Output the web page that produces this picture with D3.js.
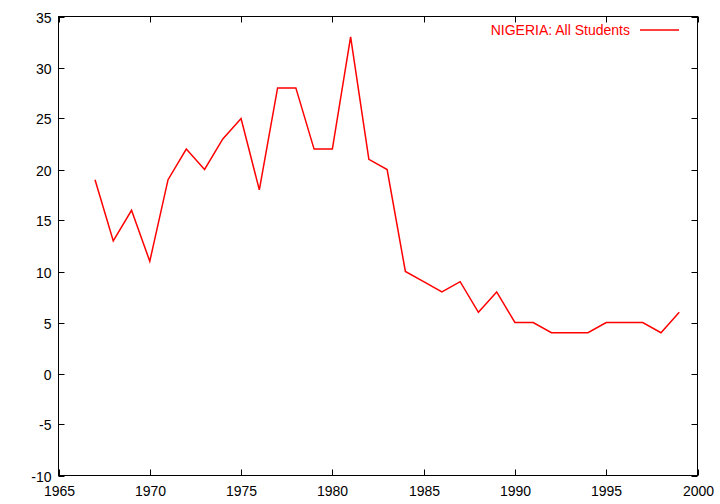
<!DOCTYPE html>
<html><head><meta charset="utf-8">
<script src="https://cdn.jsdelivr.net/npm/d3@7"></script>
<style>body{margin:0;background:#fff}svg{display:block}text{font-family:"Liberation Sans",Arial,sans-serif;font-size:14px}</style>
</head><body>
<svg id="c" width="720" height="504"></svg>
<script>
const years = [1967,1968,1969,1970,1971,1972,1973,1974,1975,1976,1977,1978,1979,1980,1981,1982,1983,1984,1985,1986,1987,1988,1989,1990,1991,1992,1993,1994,1995,1996,1997,1998,1999];
const values = [19,13,16,11,19,22,20,23,25,18,28,28,22,22,33,21,20,10,9,8,9,6,8,5,5,4,4,4,5,5,5,4,6];
const xTicks = [1965,1970,1975,1980,1985,1990,1995,2000];
const yTicks = [-10,-5,0,5,10,15,20,25,30,35];
const seriesName = "NIGERIA: All Students";

const L=58.5,R=697.5,T=16.5,B=475.5;
const svg=d3.select("#c");
const x=d3.scaleLinear().domain([1965,2000]).range([L,R]);
const y=d3.scaleLinear().domain([-10,35]).range([B,T]);
const tl=6;
const g=svg.append("g");
xTicks.forEach(v=>{
  const px=Math.round(x(v))+0.5;
  g.append("line").attr("x1",px).attr("x2",px).attr("y1",B).attr("y2",B-tl).attr("stroke","#000");
  g.append("line").attr("x1",px).attr("x2",px).attr("y1",T).attr("y2",T+tl).attr("stroke","#000");
  g.append("text").attr("x",px).attr("y",B+20).attr("text-anchor","middle").text(v);
});
yTicks.forEach(v=>{
  const py=Math.round(y(v))+0.5;
  g.append("line").attr("x1",L).attr("x2",L+tl).attr("y1",py).attr("y2",py).attr("stroke","#000");
  g.append("line").attr("x1",R).attr("x2",R-tl).attr("y1",py).attr("y2",py).attr("stroke","#000");
  g.append("text").attr("x",L-7).attr("y",py+5).attr("text-anchor","end").text(v);
});
g.append("rect").attr("x",L).attr("y",T).attr("width",R-L).attr("height",B-T).attr("fill","none").attr("stroke","#000");

const line=d3.line().x((d,i)=>x(years[i])).y(d=>y(d));
svg.append("path").datum(values).attr("d",line).attr("fill","none").attr("stroke","#ff0000").attr("stroke-width",1.5);

svg.append("text").attr("x",630).attr("y",35).attr("text-anchor","end").attr("fill","#ff0000").text(seriesName);
svg.append("line").attr("x1",640).attr("x2",679).attr("y1",30).attr("y2",30).attr("stroke","#ff0000").attr("stroke-width",1.5);
</script>
</body></html>
